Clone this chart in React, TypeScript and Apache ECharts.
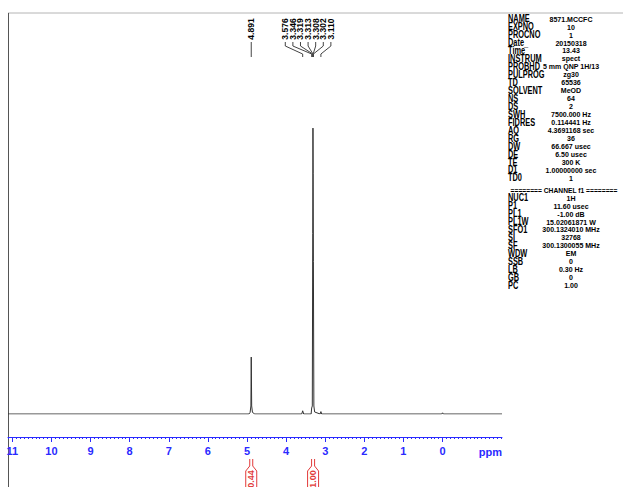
import React, { useEffect, useRef } from "react";
import * as echarts from "echarts";

// ---- data ----
const X_MIN = -1.52;
const X_MAX = 11.11;
const MAJOR_TICKS = [11, 10, 9, 8, 7, 6, 5, 4, 3, 2, 1, 0];
const MINOR_TICKS: number[] = [];
for (let i = -15; i <= 111; i++) MINOR_TICKS.push(i / 10);

const SPECTRUM_PPM = [11.11, 4.95, 4.92, 4.9, 4.891, 4.88, 4.86, 4.8, 3.6, 3.576, 3.55, 3.36, 3.346, 3.33, 3.319, 3.313, 3.308, 3.302, 3.29, 3.27, 3.13, 3.11, 3.09, 0.02, 0.0, -0.02, -1.52];
const SPECTRUM_INT = [0, 0, 0.4, 2, 14.2, 2, 0.4, 0, 0, 0.8, 0, 0, 1.5, 2, 45, 71.3, 60, 38, 2, 0.5, 0, 0.6, 0, 0, 0.3, 0, 0];

const SINGLE_PEAKS = ["4.891"];
const GROUP_PEAKS = ["3.576", "3.346", "3.319", "3.313", "3.308", "3.302", "3.110"];

const INTEGRAL_PPM = [4.891, 3.31];
const INTEGRAL_VALUES = ["0.44", "1.00"];

const PARAM_NAMES_1 = ["NAME", "EXPNO", "PROCNO", "Date_", "Time", "INSTRUM", "PROBHD", "PULPROG", "TD", "SOLVENT", "NS", "DS", "SWH", "FIDRES", "AQ", "RG", "DW", "DE", "TE", "D1", "TD0"];
const PARAM_VALUES_1 = ["8571.MCCFC", "10", "1", "20150318", "13.43", "spect", "5 mm QNP 1H/13", "zg30", "65536", "MeOD", "64", "2", "7500.000 Hz", "0.114441 Hz", "4.3691168 sec", "36", "66.667 usec", "6.50 usec", "300 K", "1.00000000 sec", "1"];
const CHANNEL_HEADER = "======== CHANNEL f1 ========";
const PARAM_NAMES_2 = ["NUC1", "P1", "PL1", "PL1W", "SFO1", "SI", "SF", "WDW", "SSB", "LB", "GB", "PC"];
const PARAM_VALUES_2 = ["1H", "11.60 usec", "-1.00 dB", "15.02061871 W", "300.1324010 MHz", "32768", "300.1300055 MHz", "EM", "0", "0.30 Hz", "0", "1.00"];

const BLUE = "#2a2aff";
const RED = "#e23a3a";
const SANS = "'Liberation Sans', Arial, sans-serif";

export default function App() {
  const ref = useRef<HTMLDivElement>(null);
  useEffect(() => {
    if (!ref.current) return;
    const chart = echarts.init(ref.current, undefined, { renderer: "svg" });

    const paramTexts: any[] = [];
    const rowH = 7.95;
    const nameText = (n: string, y: number) => ({
      type: "text", x: 508, y, scaleX: 0.74,
      style: { text: n, fill: "#000", fontSize: 10, fontWeight: "bold", fontFamily: SANS, verticalAlign: "middle" },
    });
    const valueText = (v: string, y: number) => ({
      type: "text", x: 571, y, scaleX: 0.88,
      style: { text: v, fill: "#000", fontSize: 8, fontWeight: "bold", fontFamily: SANS, align: "center", verticalAlign: "middle" },
    });
    PARAM_NAMES_1.forEach((n, i) => {
      const y = 19 + i * rowH;
      paramTexts.push(nameText(n, y));
      paramTexts.push(valueText(PARAM_VALUES_1[i], y));
    });
    paramTexts.push({
      type: "text", x: 564, y: 190.5, scaleX: 0.84,
      style: { text: CHANNEL_HEADER, fill: "#000", fontSize: 8, fontWeight: "bold", fontFamily: SANS, align: "center", verticalAlign: "middle" },
    });
    PARAM_NAMES_2.forEach((n, i) => {
      const y = 198 + i * rowH;
      paramTexts.push(nameText(n, y));
      paramTexts.push(valueText(PARAM_VALUES_2[i], y));
    });

    const baseAxis = {
      type: "value" as const,
      min: X_MIN,
      max: X_MAX,
      inverse: true,
      position: "bottom" as const,
      offset: 23,
      splitLine: { show: false },
    };

    chart.setOption({
      animation: false,
      grid: { left: 8, right: 121, top: 13, bottom: 73 },
      xAxis: [
        {
          ...baseAxis,
          axisLine: { show: true, onZero: false, lineStyle: { color: BLUE, width: 1 } },
          axisTick: { show: true, customValues: MAJOR_TICKS, length: 5, lineStyle: { color: BLUE } },
          axisLabel: { show: true, customValues: MAJOR_TICKS, color: BLUE, fontWeight: "bold", fontSize: 11, fontFamily: SANS, margin: 8 },
        },
        {
          ...baseAxis,
          axisLine: { show: false, onZero: false },
          axisTick: { show: true, customValues: MINOR_TICKS, length: 2, lineStyle: { color: BLUE } },
          axisLabel: { show: false },
        },
      ],
      yAxis: { type: "value", min: 0, max: 100, show: false },
      series: [
        {
          type: "line",
          data: SPECTRUM_PPM.map((p, i) => [p, SPECTRUM_INT[i]]),
          showSymbol: false,
          lineStyle: { color: "#333", width: 1 },
          silent: true,
        },
      ],
      graphic: [],
    });

    const px = (v: number) => chart.convertToPixel({ xAxisIndex: 0 }, v) as number;

    const g: any[] = [
      { type: "line", shape: { x1: 8, y1: 13, x2: 623, y2: 13 }, style: { stroke: "#b4b4b4", lineWidth: 1 } },
      { type: "line", shape: { x1: 8.5, y1: 13, x2: 8.5, y2: 487 }, style: { stroke: "#555", lineWidth: 1 } },
      { type: "text", x: 502, y: 452, style: { text: "ppm", fill: BLUE, fontSize: 11, fontWeight: "bold", fontFamily: SANS, align: "right", verticalAlign: "middle" } },
      ...paramTexts,
    ];

    const labelStyle = { fill: "#000", fontSize: 8.5, fontWeight: "bold", fontFamily: SANS, align: "center", verticalAlign: "middle" };

    // single peak labels
    SINGLE_PEAKS.forEach((s) => {
      const x = px(parseFloat(s));
      g.push({ type: "text", x, y: 29, rotation: Math.PI / 2, style: { ...labelStyle, text: s } });
      g.push({ type: "line", shape: { x1: x, y1: 42, x2: x, y2: 57 }, style: { stroke: "#444", lineWidth: 1 } });
    });

    // grouped peak labels
    const groupPx = GROUP_PEAKS.map((s) => px(parseFloat(s)));
    const centre = px(3.31) - 5;
    const spacing = 7.6;
    GROUP_PEAKS.forEach((s, i) => {
      const lx = centre + (i - (GROUP_PEAKS.length - 1) / 2) * spacing;
      g.push({ type: "text", x: lx, y: 29, rotation: Math.PI / 2, style: { ...labelStyle, text: s } });
      g.push({
        type: "polyline",
        shape: { points: [[lx, 42], [lx, 46], [groupPx[i], 54], [groupPx[i], 57]] },
        style: { stroke: "#444", lineWidth: 1, fill: null },
      });
    });

    // integrals
    INTEGRAL_PPM.forEach((p, i) => {
      const x = px(p);
      g.push({ type: "polyline", shape: { points: [[x - 5.5, 492], [x - 5.5, 471], [x - 1.5, 466], [x - 1.5, 459]] }, style: { stroke: RED, lineWidth: 1, fill: null } });
      g.push({ type: "polyline", shape: { points: [[x + 5.5, 492], [x + 5.5, 471], [x + 1.5, 466], [x + 1.5, 459]] }, style: { stroke: RED, lineWidth: 1, fill: null } });
      g.push({ type: "text", x, y: 479, rotation: Math.PI / 2, style: { text: INTEGRAL_VALUES[i], fill: RED, fontSize: 9, fontWeight: "bold", fontFamily: SANS, align: "center", verticalAlign: "middle" } });
    });

    chart.setOption({ graphic: g });

    return () => chart.dispose();
  }, []);

  return <div ref={ref} style={{ position: "fixed", left: 0, top: 0, width: 623, height: 487, background: "#fff" }} />;
}
